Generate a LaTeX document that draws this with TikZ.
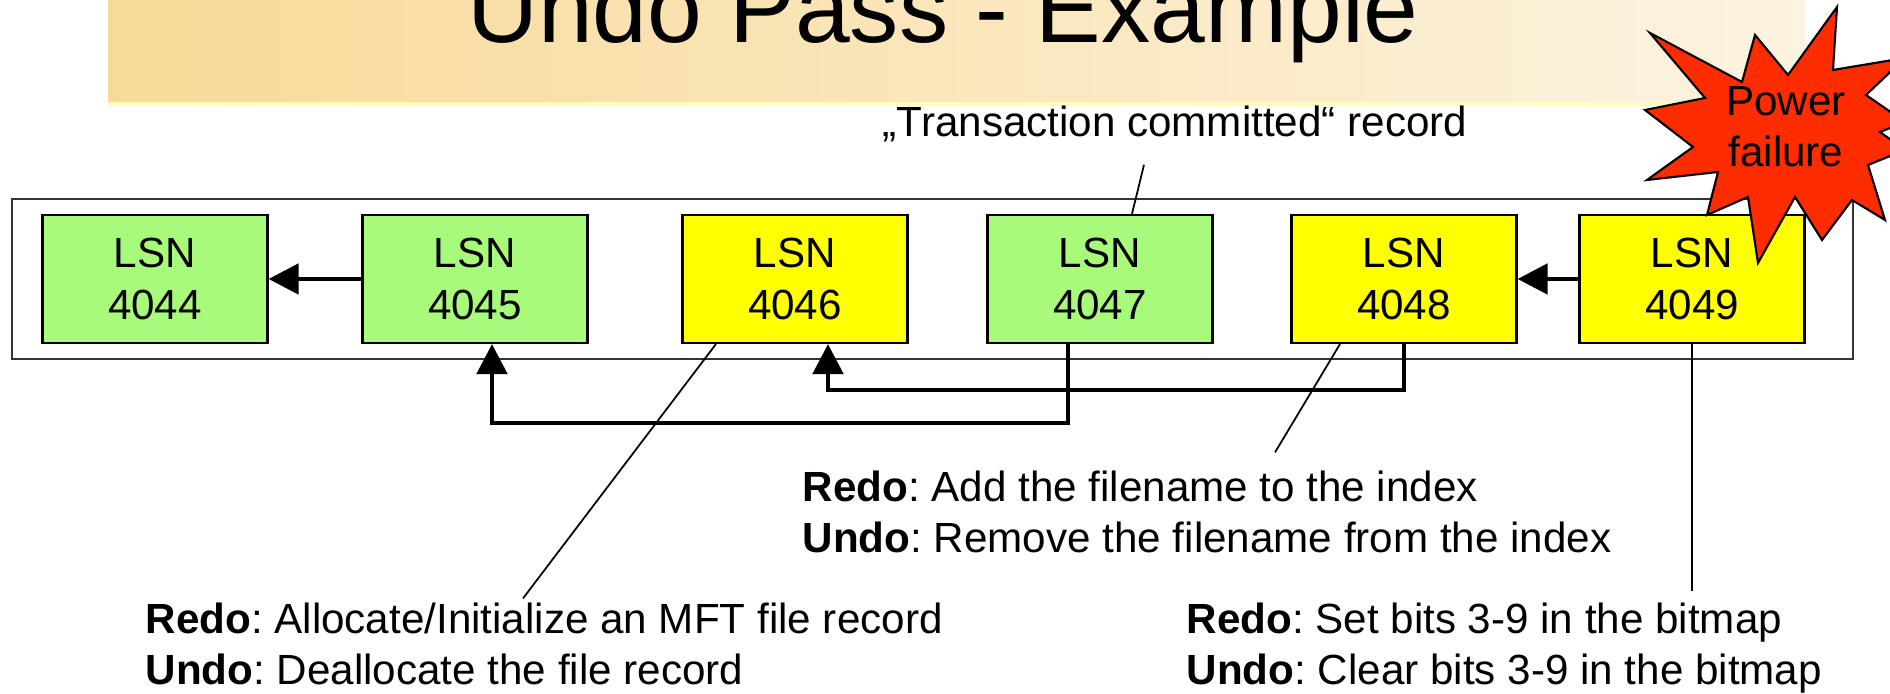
\documentclass[tikz,border=0pt]{standalone}
\usepackage{fontspec}
\setmainfont{Liberation Sans}
\usetikzlibrary{arrows.meta}
\frenchspacing

\definecolor{lsngreen}{RGB}{168,250,122}
\definecolor{lsnyellow}{RGB}{255,255,0}
\definecolor{burstred}{RGB}{255,44,0}
\definecolor{barleft}{RGB}{248,218,152}
\definecolor{barright}{RGB}{252,243,224}

\begin{document}
\begin{tikzpicture}[>={Triangle[length=3mm, width=3mm]},
  every node/.style={font=\fontsize{12}{14.6}\selectfont},
  lsn/.style={draw, line width=0.6pt, minimum width=2.25cm, minimum height=1.28cm,
              align=center, inner sep=0pt},
  back/.style={->, line width=1.4pt},
  callout/.style={line width=0.5pt},
  note/.style={align=left, anchor=base west, inner sep=0pt}]

\useasboundingbox (0, 0) rectangle (18.9, 6.94);
\clip (0, 0) rectangle (18.9, 6.94);

% Title bar
\shade[left color=barleft, right color=barright] (1.08, 5.91) rectangle (18.05, 6.94);
\draw[line width=1pt, yellow!25] (1.08, 5.9) -- (18.05, 5.9);
\node[font=\fontsize{28}{33}\selectfont, anchor=base] (title) at (9.43, 6.51) {Undo Pass - Example};

% Log frame
\draw[line width=0.8pt, black!80] (0.12, 3.35) rectangle (18.53, 4.95);

% Nodes
\node[lsn, fill=lsngreen]  (A) at (1.55, 4.15)  {LSN\\4044};
\node[lsn, fill=lsngreen]  (B) at (4.75, 4.15)  {LSN\\4045};
\node[lsn, fill=lsnyellow] (C) at (7.95, 4.15)  {LSN\\4046};
\node[lsn, fill=lsngreen]  (D) at (11.00, 4.15) {LSN\\4047};
\node[lsn, fill=lsnyellow] (E) at (14.04, 4.15) {LSN\\4048};
\node[lsn, fill=lsnyellow] (F) at (16.92, 4.15) {LSN\\4049};

% Arrows - previous record
\draw[back] (B) -- (A);
\draw[back] (F) -- (E);

% Arrows - undo chain
\draw[back] ([xshift=-3.2mm]D.south) -- ++(0, -0.79) -| ([xshift=1.7mm]B.south);
\draw[back] (E.south) -- ++(0, -0.46) -| ([xshift=3.3mm]C.south);

% Labels (base = last line)
\node[anchor=base] (T) at (11.75, 5.57) {„Transaction committed“ record};
\node[note] (M) at (1.45, 0.09) {\textbf{Redo}: Allocate/Initialize an MFT file record\\
                                 \textbf{Undo}: Deallocate the file record};
\node[note] (I) at (8.02, 1.41) {\textbf{Redo}: Add the filename to the index\\
                                 \textbf{Undo}: Remove the filename from the index};
\node[note] (K) at (11.86, 0.09) {\textbf{Redo}: Set bits 3-9 in the bitmap\\
                                  \textbf{Undo}: Clear bits 3-9 in the bitmap};

% Callout lines
\draw[callout] ([xshift=-3.1mm, yshift=-1mm]T.south) -- ([xshift=3.2mm]D.north);
\draw[callout] ([xshift=-7.9mm]C.south) -- ([xshift=37.8mm, yshift=0.4mm]M.north west);
\draw[callout] ([xshift=-6.4mm]E.south) -- ([xshift=47.3mm, yshift=1.8mm]I.north west);
\draw[callout] (F.south) -- ([yshift=1.1mm]F.south |- K.north);

% Power failure burst
\filldraw[fill=burstred, line width=0.6pt]
  (18.37, 6.87) -- (18.33, 6.24) -- (19.05, 6.36) -- (18.66, 5.99) -- (19.05, 5.72)
  -- (18.80, 5.62) -- (19.05, 5.44) -- (18.68, 5.29) -- (18.85, 4.74) -- (18.52, 4.94)
  -- (18.22, 4.54) -- (17.95, 4.97) -- (17.58, 4.31) -- (17.48, 4.97) -- (17.07, 4.79)
  -- (17.18, 5.22) -- (16.47, 5.14) -- (16.93, 5.47) -- (16.45, 5.84) -- (17.05, 5.96)
  -- (16.50, 6.61) -- (17.42, 6.12) -- (17.55, 6.59) -- (17.88, 6.19) -- cycle;
\node[align=center, anchor=base] (S) at (17.86, 5.27) {Power\\failure};

\end{tikzpicture}
\end{document}
